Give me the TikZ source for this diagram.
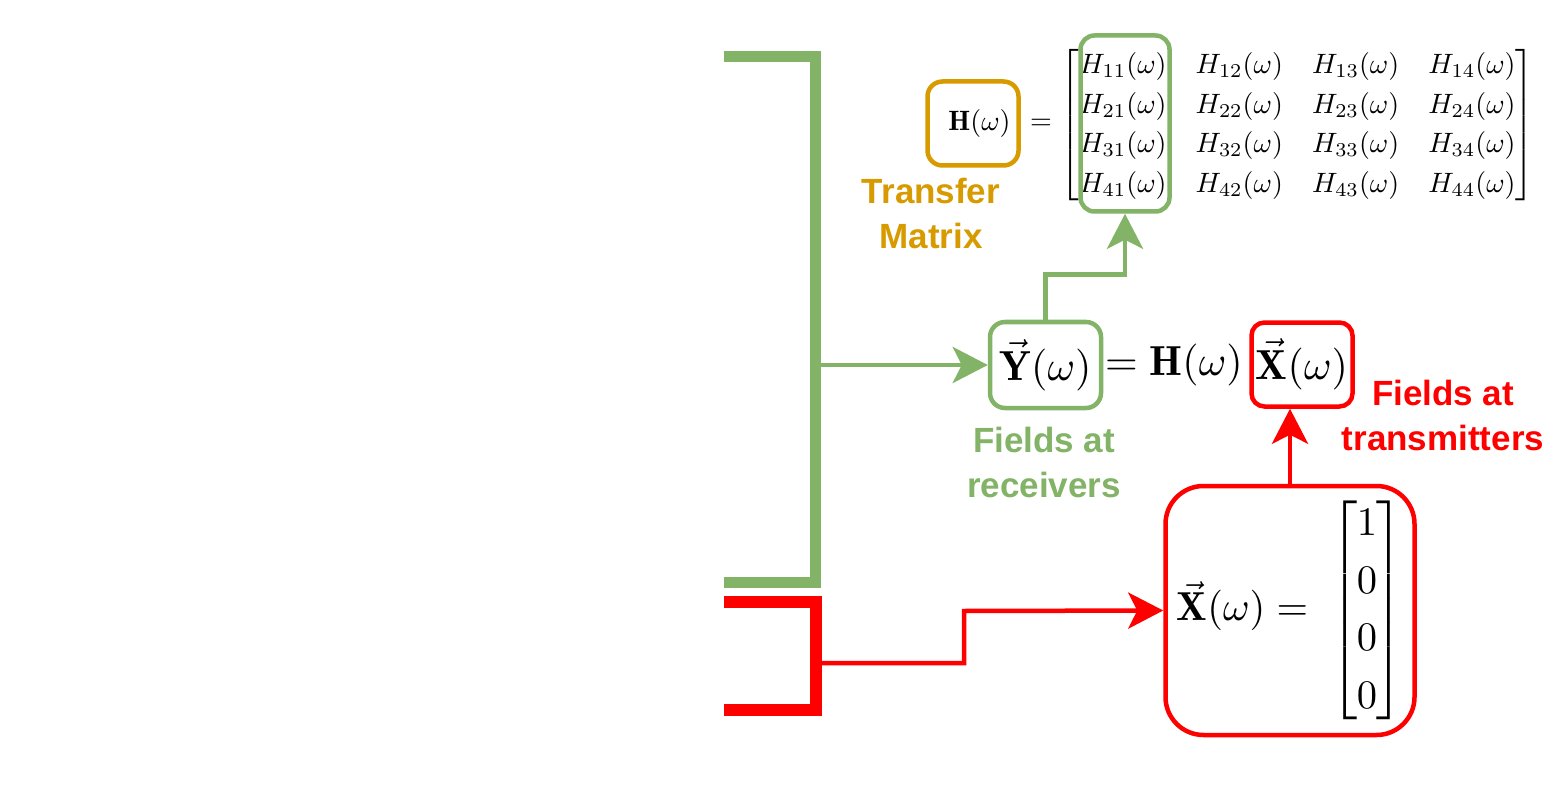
\documentclass[tikz,border=0pt]{standalone}
\usepackage{amsmath}
\usepackage{graphicx}
\usepackage{fontspec}
\newfontfamily\labelfont{Liberation Sans}
\usetikzlibrary{arrows.meta}

\definecolor{recvgreen}{HTML}{82B366}
\definecolor{sendred}{HTML}{FF0000}
\definecolor{matorange}{HTML}{D79B00}

% math set at 10pt and enlarged, so it keeps the 10pt design shapes
\newcommand{\eqmath}[1]{\scalebox{4.2}{$#1$}}
\newcommand{\tightbrackets}{\delimitershortfall=0pt\delimiterfactor=1000}

\tikzset{
  every node/.style={inner sep=0pt},
  rbox/.style={draw, line width=4.5pt, rounded corners=#1},
  lbl/.style={align=center, font=\labelfont\bfseries\fontsize{35}{45}\selectfont},
  conn/.style={line width=4.5pt, -{Stealth[length=35pt,width=36pt,inset=9pt]}},
  bracket/.style={line width=#1, line join=miter},
}

\begin{document}
\begin{tikzpicture}[x=1pt,y=-1pt]
\fill[white] (0,0) rectangle (1566,786);
\useasboundingbox (0,0) rectangle (1566,786);

% receiver and transmitter brackets
\draw[bracket=11pt, recvgreen] (724,57) -- (815.5,57) -- (815.5,582.5) -- (724,582.5);
\draw[bracket=12pt, sendred] (724,602) -- (815.5,602) -- (815.5,710) -- (724,710);
\coordinate (gtap) at (815.5,365);
\coordinate (rtap) at (815.5,663);
\coordinate (rstep) at (964,611);

% transfer matrix definition
\node[rbox=15pt, draw=matorange, minimum width=91pt, minimum height=84pt] (hbox) at (973,123.5) {};
\node (hlabel) at (979.5,124) {\scalebox{2.8}{$\mathbf{H}(\omega)$}};
\node (heq) at (1041,124) {\scalebox{2.8}{$=$}};
\node (hmat) at (1297.5,125) {\tightbrackets\setlength{\arraycolsep}{5.2pt}\renewcommand{\arraystretch}{1.176}%
\scalebox{2.8}{$\left[\rule[-23pt]{0pt}{51pt}\smash{\begin{array}{@{}cccc@{}}
H_{11}(\omega) & H_{12}(\omega) & H_{13}(\omega) & H_{14}(\omega)\\
H_{21}(\omega) & H_{22}(\omega) & H_{23}(\omega) & H_{24}(\omega)\\
H_{31}(\omega) & H_{32}(\omega) & H_{33}(\omega) & H_{34}(\omega)\\
H_{41}(\omega) & H_{42}(\omega) & H_{43}(\omega) & H_{44}(\omega)
\end{array}}\right]$}};
\node[rbox=14pt, draw=recvgreen, minimum width=89pt, minimum height=176pt] (colbox) at (1125,123.5) {};
\node[lbl, text=matorange] (tmlabel) at (931,213) {Transfer\\Matrix};

% input-output relation
\node[rbox=15pt, draw=recvgreen, minimum width=111pt, minimum height=86pt] (ybox) at (1045.5,365) {\eqmath{\vec{\mathbf{Y}}(\omega)}};
\node[anchor=west] (eqmid) at (1105,365) {\eqmath{=\mathbf{H}(\omega)}};
\node[rbox=13pt, draw=sendred, minimum width=101pt, minimum height=84pt] (xsmall) at (1302,364.5) {\eqmath{\vec{\mathbf{X}}(\omega)}};
\node[lbl, text=recvgreen] (rxlabel) at (1044,462) {Fields at\\receivers};
\node[lbl, text=sendred] (txlabel) at (1443,415) {Fields at\\transmitters};

% excitation vector
\node[rbox=38pt, draw=sendred, minimum width=249pt, minimum height=249pt] (xbig) at (1290,610.5)
  {\tightbrackets\renewcommand{\arraystretch}{1.19}%
   \scalebox{4.05}{$\vec{\mathbf{X}}(\omega) = \;\left[\rule[-24pt]{0pt}{53pt}\smash{\begin{array}{@{\kern-0.2pt}c@{\kern-0.2pt}}1\\0\\0\\0\end{array}}\right]$}};

% connectors
\draw[conn, recvgreen] (gtap) -- (ybox.west);
\draw[conn, recvgreen] (ybox.north) -- ++(0,-45) -| (colbox.south);
\draw[conn, sendred] (rtap) -| (rstep) -- (xbig.west);
\draw[conn, sendred] (xbig.north) -- (xbig.north |- xsmall.south);
\end{tikzpicture}
\end{document}
